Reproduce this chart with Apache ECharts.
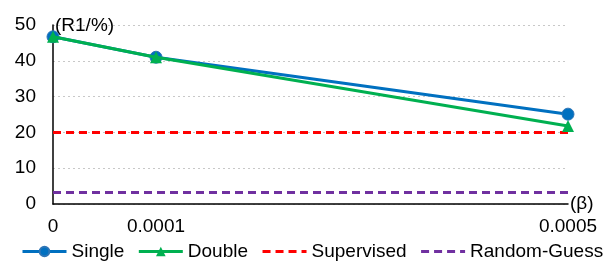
<!DOCTYPE html>
<html>
<head>
<meta charset="utf-8">
<script src="https://cdn.jsdelivr.net/npm/echarts@6/dist/echarts.min.js"></script>
<style>
  html, body { margin: 0; padding: 0; background: #fff; }
  #chart { width: 613px; height: 263px; }
</style>
</head>
<body>
<div id="chart"></div>
<script>
// beta values on the x axis
var betas = [0, 0.0001, 0.0005];
var singleVals = [46.7, 41.0, 25.1];
var doubleVals = [46.7, 41.0, 21.8];
var supervisedVal = 20;
var randomGuessVal = 3.2;

function pairs(xs, ys) {
  return xs.map(function (x, i) { return [x, ys[i]]; });
}
var xEnds = [betas[0], betas[betas.length - 1]];

var chart = echarts.init(document.getElementById('chart'));
var font = 'Liberation Sans, Arial, sans-serif';

chart.setOption({
  animation: false,
  grid: { left: 53, right: 45, top: 25, bottom: 59, containLabel: false },
  xAxis: {
    type: 'value',
    min: 0,
    max: 0.0005,
    name: '(β)',
    nameLocation: 'end',
    nameGap: 2,
    nameTextStyle: { color: '#000', fontSize: 19, fontFamily: font, verticalAlign: 'middle', padding: [4, 0, 0, 0] },
    axisLine: { show: true, lineStyle: { color: '#000', width: 1.5 } },
    axisTick: { show: false },
    splitLine: { show: false },
    axisLabel: {
      color: '#000', fontSize: 19, fontFamily: font, margin: 13,
      customValues: betas,
      formatter: function (v) { return v === 0 ? '0' : v.toFixed(4); }
    }
  },
  yAxis: {
    type: 'value',
    min: 0,
    max: 50,
    interval: 10,
    name: '(R1/%)',
    nameLocation: 'end',
    nameGap: 0,
    nameTextStyle: { color: '#000', fontSize: 19, fontFamily: font, align: 'left', padding: [0, 0, -10, 2] },
    axisLine: { show: true, lineStyle: { color: '#000', width: 1.5 } },
    axisTick: { show: false },
    axisLabel: { color: '#000', fontSize: 19, fontFamily: font, margin: 17 },
    splitLine: { show: true, lineStyle: { color: '#c8c8c8', type: [2, 3], width: 1 } }
  },
  legend: {
    bottom: -3,
    left: 16,
    itemWidth: 44,
    itemHeight: 12,
    itemGap: 13,
    textStyle: { color: '#000', fontSize: 19, fontFamily: font },
    data: [
      { name: 'Single', lineStyle: { width: 3 } },
      { name: 'Double', lineStyle: { width: 3 } },
      { name: 'Supervised', lineStyle: { width: 3 }, itemStyle: { opacity: 0 } },
      { name: 'Random-Guess', lineStyle: { width: 3 }, itemStyle: { opacity: 0 } }
    ]
  },
  series: [
    {
      name: 'Supervised',
      type: 'line',
      data: pairs(xEnds, [supervisedVal, supervisedVal]),
      symbol: 'none',
      lineStyle: { color: '#ff0000', width: 3, type: [8, 5] },
      itemStyle: { color: '#ff0000' },
      z: 1
    },
    {
      name: 'Random-Guess',
      type: 'line',
      data: pairs(xEnds, [randomGuessVal, randomGuessVal]),
      symbol: 'none',
      lineStyle: { color: '#7030a0', width: 3, type: [8, 5] },
      itemStyle: { color: '#7030a0' },
      z: 1
    },
    {
      name: 'Single',
      type: 'line',
      data: pairs(betas, singleVals),
      symbol: 'circle',
      symbolSize: 12,
      lineStyle: { color: '#0070c0', width: 3 },
      itemStyle: { color: '#0070c0', borderColor: '#2e75b6', borderWidth: 1 },
      z: 2
    },
    {
      name: 'Double',
      type: 'line',
      data: pairs(betas, doubleVals),
      symbol: 'triangle',
      symbolSize: 12,
      lineStyle: { color: '#00b050', width: 3 },
      itemStyle: { color: '#00b050' },
      z: 3
    }
  ]
});
</script>
</body>
</html>
